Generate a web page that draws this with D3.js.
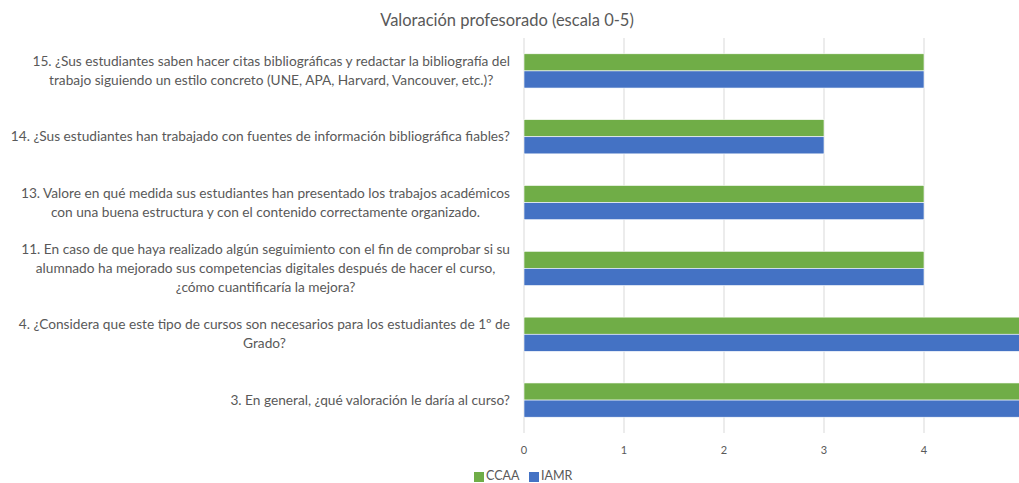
<!DOCTYPE html>
<html>
<head>
<meta charset="utf-8">
<script src="https://cdn.jsdelivr.net/npm/d3@7"></script>
<style>
  body { margin: 0; background: #fff; }
  svg text { font-family: Lato, "Open Sans", sans-serif; fill: #595959; }
</style>
</head>
<body>
<div id="chart"></div>
<script>
// #Data
const questions = [
  ['15. ¿Sus estudiantes saben hacer citas bibliográficas y redactar la bibliografía del',
   'trabajo siguiendo un estilo concreto (UNE, APA, Harvard, Vancouver, etc.)?'],
  ['14. ¿Sus estudiantes han trabajado con fuentes de información bibliográfica fiables?'],
  ['13. Valore en qué medida sus estudiantes han presentado los trabajos académicos',
   'con una buena estructura y con el contenido correctamente organizado.'],
  ['11. En caso de que haya realizado algún seguimiento con el fin de comprobar si su',
   'alumnado ha mejorado sus competencias digitales después de hacer el curso,',
   '¿cómo cuantificaría la mejora?'],
  ['4. ¿Considera que este tipo de cursos son necesarios para los estudiantes de 1º de',
   'Grado?'],
  ['3. En general, ¿qué valoración le daría al curso?']
];
const seriesNames = ['CCAA', 'IAMR'];
const valuesCCAA = [4, 3, 4, 4, 5, 5];
const valuesIAMR = [4, 3, 4, 4, 5, 5];
const xTicks = [0, 1, 2, 3, 4];
const colors = ['#70ad47', '#4472c4'];

// #Set SVG dimensions
const w = 1019;
const h = 483;
const plotLeft = 524;
const plotTop = 38;
const plotBottom = 433;

const svg = d3.select('#chart')
              .append('svg')
              .attr('width', w)
              .attr('height', h);

// #Scales
const xScale = d3.scaleLinear()
                 .domain([0, 5])
                 .range([plotLeft, plotLeft + 500]);
const yScale = d3.scaleBand()
                 .domain(d3.range(questions.length))
                 .range([plotTop, plotBottom])
                 .paddingInner(0.48)
                 .paddingOuter(0.24);
const ySub = d3.scaleBand()
               .domain(seriesNames)
               .range([0, yScale.bandwidth()]);

// #Title
svg.append('text')
   .attr('x', 507)
   .attr('y', 26)
   .attr('text-anchor', 'middle')
   .style('font-size', '16.5px')
   .text('Valoración profesorado (escala 0-5)');

// #Gridlines
svg.append('g')
   .selectAll('line')
   .data(xTicks)
   .enter()
   .append('line')
   .attr('x1', d => xScale(d))
   .attr('x2', d => xScale(d))
   .attr('y1', plotTop)
   .attr('y2', plotBottom)
   .attr('stroke', '#d9d9d9')
   .attr('stroke-width', 1);

// #Bars
const rows = questions.map((q, i) => ({i: i, vals: [valuesCCAA[i], valuesIAMR[i]]}));
const groups = svg.append('g')
                  .selectAll('g')
                  .data(rows)
                  .enter()
                  .append('g')
                  .attr('transform', d => 'translate(0,' + yScale(d.i) + ')');
groups.selectAll('rect')
      .data(d => d.vals.map((v, k) => ({name: seriesNames[k], v: v, k: k})))
      .enter()
      .append('rect')
      .attr('x', xScale(0))
      .attr('y', d => ySub(d.name))
      .attr('width', d => xScale(d.v) - xScale(0))
      .attr('height', ySub.bandwidth())
      .attr('fill', d => colors[d.k])
      .attr('stroke', '#fff')
      .attr('stroke-width', 0.6);

// #Category labels
const lineH = 19;
const labelRight = 510;
const labels = svg.append('g');
questions.forEach((lines, i) => {
  const cy = yScale(i) + yScale.bandwidth() / 2;
  const g = labels.append('g');
  const texts = lines.map((ln, j) => g.append('text')
      .attr('y', cy + (j - (lines.length - 1) / 2) * lineH + 4.5)
      .style('font-size', '13.7px')
      .text(ln));
  const widths = texts.map(t => t.node().getComputedTextLength());
  const maxW = d3.max(widths);
  const center = labelRight - maxW / 2;
  texts.forEach(t => t.attr('x', center).attr('text-anchor', 'middle'));
});

// #X axis labels
svg.append('g')
   .selectAll('text')
   .data(xTicks)
   .enter()
   .append('text')
   .attr('x', d => xScale(d))
   .attr('y', 454)
   .attr('text-anchor', 'middle')
   .style('font-size', '11px')
   .text(d => d);

// #Legend
const legendX = [474, 529];
const legend = svg.append('g');
seriesNames.forEach((name, k) => {
  legend.append('rect')
        .attr('x', legendX[k])
        .attr('y', 472)
        .attr('width', 10)
        .attr('height', 10)
        .attr('fill', colors[k]);
  legend.append('text')
        .attr('x', legendX[k] + 12)
        .attr('y', 480)
        .style('font-size', '12.5px')
        .text(name);
});
</script>
</body>
</html>
